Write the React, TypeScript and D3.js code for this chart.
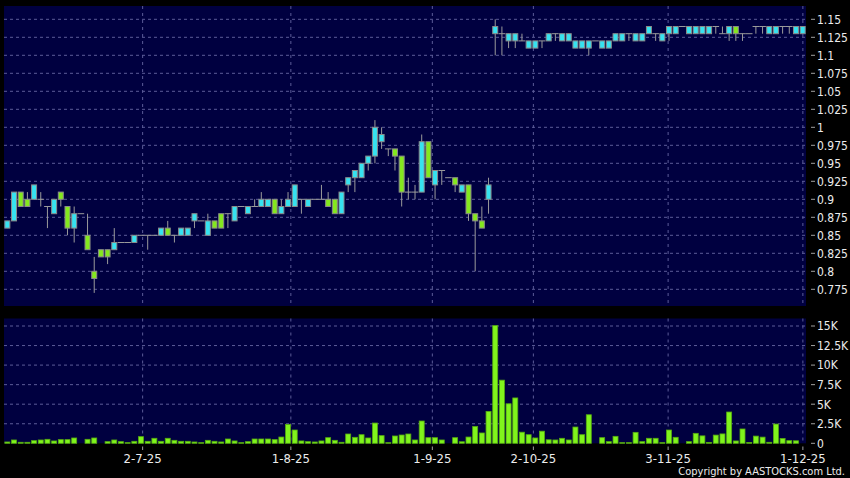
import React from "react";
import * as d3 from "d3";

// ---------- DATA ----------
const opens = [
  0.86, 0.87, 0.91, 0.90, 0.90, 0.90, 0.89, 0.88, 0.91, 0.89,
  0.86, 0.88, 0.85, 0.80, 0.83, 0.83, 0.83, 0.84, 0.84, 0.84,
  0.85, 0.85, 0.85, 0.85, 0.86, 0.85, 0.85, 0.85, 0.87, 0.87,
  0.85, 0.87, 0.88, 0.88, 0.87, 0.89, 0.88, 0.89, 0.89, 0.89,
  0.90, 0.88, 0.89, 0.89, 0.90, 0.89, 0.90, 0.90, 0.90, 0.90,
  0.88, 0.92, 0.93, 0.93, 0.95, 0.96, 0.98, 0.97, 0.97, 0.96,
  0.91, 0.91, 0.91, 0.98, 0.92, 0.94, 0.93, 0.93, 0.91, 0.92,
  0.88, 0.87, 0.90, 1.13, 1.13, 1.12, 1.12, 1.12, 1.11, 1.11,
  1.12, 1.12, 1.13, 1.12, 1.12, 1.11, 1.11, 1.11, 1.12, 1.11,
  1.11, 1.12, 1.12, 1.13, 1.12, 1.12, 1.13, 1.13, 1.12, 1.13,
  1.13, 1.14, 1.13, 1.13, 1.13, 1.13, 1.14, 1.13, 1.13, 1.14,
  1.13, 1.13, 1.14, 1.14, 1.13, 1.13, 1.14, 1.14, 1.13, 1.13,
];
const highs = [
  0.87, 0.91, 0.91, 0.91, 0.92, 0.91, 0.89, 0.90, 0.91, 0.89,
  0.89, 0.88, 0.88, 0.82, 0.83, 0.83, 0.86, 0.84, 0.84, 0.85,
  0.85, 0.85, 0.85, 0.86, 0.87, 0.85, 0.86, 0.86, 0.88, 0.87,
  0.88, 0.87, 0.88, 0.88, 0.89, 0.89, 0.89, 0.90, 0.91, 0.90,
  0.90, 0.90, 0.91, 0.92, 0.90, 0.90, 0.90, 0.92, 0.91, 0.90,
  0.91, 0.93, 0.94, 0.95, 0.96, 1.01, 1.00, 0.97, 0.97, 0.96,
  0.93, 0.92, 0.99, 0.98, 0.94, 0.94, 0.93, 0.93, 0.92, 0.92,
  0.88, 0.89, 0.93, 1.15, 1.14, 1.13, 1.13, 1.13, 1.12, 1.12,
  1.12, 1.13, 1.13, 1.13, 1.13, 1.12, 1.12, 1.12, 1.12, 1.12,
  1.12, 1.13, 1.13, 1.13, 1.13, 1.13, 1.14, 1.13, 1.13, 1.14,
  1.14, 1.14, 1.14, 1.14, 1.14, 1.14, 1.14, 1.14, 1.14, 1.14,
  1.13, 1.13, 1.14, 1.14, 1.14, 1.14, 1.14, 1.14, 1.14, 1.14,
];
const lows = [
  0.86, 0.87, 0.89, 0.89, 0.90, 0.89, 0.86, 0.88, 0.89, 0.85,
  0.84, 0.88, 0.83, 0.77, 0.82, 0.81, 0.83, 0.84, 0.84, 0.84,
  0.85, 0.83, 0.85, 0.85, 0.85, 0.84, 0.85, 0.85, 0.86, 0.87,
  0.85, 0.86, 0.86, 0.86, 0.87, 0.89, 0.88, 0.89, 0.89, 0.89,
  0.88, 0.88, 0.89, 0.89, 0.88, 0.89, 0.90, 0.90, 0.89, 0.88,
  0.88, 0.91, 0.91, 0.93, 0.94, 0.95, 0.97, 0.96, 0.94, 0.89,
  0.90, 0.90, 0.91, 0.93, 0.90, 0.92, 0.93, 0.91, 0.91, 0.87,
  0.80, 0.86, 0.88, 1.10, 1.10, 1.11, 1.11, 1.12, 1.11, 1.11,
  1.11, 1.12, 1.12, 1.12, 1.12, 1.11, 1.11, 1.10, 1.12, 1.11,
  1.11, 1.12, 1.12, 1.12, 1.12, 1.12, 1.13, 1.12, 1.12, 1.12,
  1.13, 1.14, 1.13, 1.13, 1.13, 1.13, 1.13, 1.13, 1.12, 1.12,
  1.12, 1.13, 1.13, 1.13, 1.13, 1.13, 1.13, 1.13, 1.13, 1.13,
];
const closes = [
  0.87, 0.91, 0.89, 0.89, 0.92, 0.90, 0.89, 0.90, 0.90, 0.86,
  0.88, 0.88, 0.83, 0.79, 0.82, 0.82, 0.84, 0.84, 0.84, 0.85,
  0.85, 0.85, 0.85, 0.86, 0.85, 0.85, 0.86, 0.86, 0.88, 0.87,
  0.87, 0.86, 0.86, 0.88, 0.89, 0.89, 0.89, 0.89, 0.90, 0.90,
  0.88, 0.89, 0.90, 0.92, 0.90, 0.90, 0.90, 0.90, 0.89, 0.88,
  0.91, 0.93, 0.94, 0.95, 0.96, 1.00, 0.99, 0.97, 0.96, 0.91,
  0.91, 0.91, 0.98, 0.93, 0.94, 0.94, 0.93, 0.92, 0.92, 0.88,
  0.87, 0.86, 0.92, 1.14, 1.13, 1.13, 1.13, 1.12, 1.12, 1.12,
  1.12, 1.13, 1.13, 1.13, 1.13, 1.12, 1.12, 1.12, 1.12, 1.12,
  1.12, 1.13, 1.13, 1.13, 1.13, 1.13, 1.14, 1.13, 1.13, 1.14,
  1.14, 1.14, 1.14, 1.14, 1.14, 1.14, 1.14, 1.13, 1.14, 1.13,
  1.13, 1.13, 1.14, 1.14, 1.14, 1.14, 1.14, 1.14, 1.14, 1.14,
];
const volumes = [
  170, 425, 130, 130, 340, 425, 510, 300, 470, 470,
  680, 0, 510, 680, 0, 212, 425, 212, 85, 255,
  850, 255, 640, 255, 640, 380, 255, 255, 170, 85,
  380, 255, 170, 550, 300, 85, 212, 550, 550, 550,
  470, 800, 2420, 1700, 300, 212, 170, 300, 720, 380,
  130, 1190, 765, 1100, 680, 2590, 980, 85, 935, 1060,
  1190, 425, 2850, 720, 720, 425, 0, 720, 200, 800,
  2150, 1320, 4080, 15050, 8075, 5050, 5800, 1420, 1100, 680,
  1550, 450, 425, 640, 425, 2080, 1100, 3650, 0, 720,
  212, 890, 85, 85, 1400, 212, 640, 640, 85, 1700,
  765, 0, 212, 1275, 950, 120, 1050, 1200, 4000, 300,
  1830, 100, 920, 790, 130, 2460, 620, 340, 320, 0,
];

const priceTicks = [0.775, 0.8, 0.825, 0.85, 0.875, 0.9, 0.925, 0.95, 0.975, 1, 1.025, 1.05, 1.075, 1.1, 1.125, 1.15];
const volumeTicks = [0, 2500, 5000, 7500, 10000, 12500, 15000];
const volumeTickLabels = ["0", "2.5K", "5K", "7.5K", "10K", "12.5K", "15K"];
const dateLabels = ["2-7-25", "1-8-25", "1-9-25", "2-10-25", "3-11-25", "1-12-25"];
const dateIndex = [20, 42, 63, 78, 98, 118];

// ---------- STYLE ----------
const W = 850;
const H = 478;
const panelL = 4;
const panelR = 806;
const priceTop = 6;
const priceBottom = 306;
const volTop = 318.5;
const volBottom = 443.3;

const BG = "#000000";
const PANEL = "#000040";
const GRID = "#5c5c98";
const UP = "#36e2f0";
const DOWN = "#84e81e";
const CANDLE_STROKE = "#8a8a8a";
const WICK = "#9a9a9a";
const VOL_FILL = "#80f41c";
const VOL_STROKE = "#56aa10";
const TEXT = "#ececec";
const FONT = "'DejaVu Sans Condensed', 'DejaVu Sans', sans-serif";

const fmtPrice = (v: number) => String(+v.toFixed(3));

export default function App() {
  const N = closes.length;
  const x = d3.scaleBand<number>().domain(d3.range(N)).range([panelL, panelR]).padding(0);
  const bw = x.bandwidth();
  const cx = (i: number) => (x(i) as number) + bw / 2;
  const dateAxis = d3.scaleLinear().domain([0, N - 1]).range([7.9, 809.6]);

  const yP = d3.scaleLinear().domain([0.775, 1.15]).range([289.3, 19.3]);
  const yV = d3.scaleLinear().domain([0, 15000]).range([volBottom, 326]);

  const half = 2.5;

  return (
    <svg
      width={W}
      height={H}
      viewBox={`0 0 ${W} ${H}`}
      style={{ position: "absolute", left: 0, top: 0, display: "block" }}
      fontFamily={FONT}
    >
      <rect x={0} y={0} width={W} height={H} fill={BG} />
      {/* panels */}
      <rect x={panelL} y={priceTop} width={panelR - panelL} height={priceBottom - priceTop} fill={PANEL} />
      <rect x={panelL} y={volTop} width={panelR - panelL} height={volBottom - volTop} fill={PANEL} />

      {/* horizontal grid - price */}
      {priceTicks.map((t) => (
        <line key={"pg" + t} x1={panelL} x2={panelR} y1={yP(t)} y2={yP(t)} stroke={GRID} strokeDasharray="3,3" strokeWidth={1} />
      ))}
      {/* horizontal grid - volume */}
      {volumeTicks.filter((t) => t > 0).map((t) => (
        <line key={"vg" + t} x1={panelL} x2={panelR} y1={yV(t)} y2={yV(t)} stroke={GRID} strokeDasharray="3,3" strokeWidth={1} />
      ))}
      {/* vertical grid */}
      {dateIndex.map((di) => (
        <g key={"vgl" + di}>
          <line x1={dateAxis(di)} x2={dateAxis(di)} y1={priceTop} y2={priceBottom} stroke={GRID} strokeDasharray="3,4" />
          <line x1={dateAxis(di)} x2={dateAxis(di)} y1={volTop} y2={volBottom} stroke={GRID} strokeDasharray="3,4" />
        </g>
      ))}

      {/* candles */}
      {closes.map((c, i) => {
        const o = opens[i];
        const hgh = highs[i];
        const lw = lows[i];
        const px = cx(i);
        const wick = (
          <line x1={px} x2={px} y1={yP(hgh)} y2={yP(lw)} stroke={WICK} strokeWidth={1} />
        );
        if (Math.abs(c - o) < 1e-9) {
          return (
            <g key={"c" + i}>
              {hgh !== lw && wick}
              <line x1={px - bw / 2} x2={px + bw / 2} y1={yP(o)} y2={yP(o)} stroke={WICK} strokeWidth={1} />
            </g>
          );
        }
        const top = yP(Math.max(o, c));
        const bot = yP(Math.min(o, c));
        return (
          <g key={"c" + i}>
            {wick}
            <rect
              x={px - half}
              y={top}
              width={half * 2}
              height={bot - top}
              fill={c > o ? UP : DOWN}
              stroke={CANDLE_STROKE}
              strokeWidth={1}
            />
          </g>
        );
      })}

      {/* volume bars */}
      {volumes.map((v, i) => {
        if (v <= 0) return null;
        const px = cx(i);
        const top = yV(v);
        return (
          <rect
            key={"v" + i}
            x={px - half}
            y={top}
            width={half * 2}
            height={Math.max(0.5, volBottom - top)}
            fill={VOL_FILL}
            stroke={VOL_STROKE}
            strokeWidth={0.8}
          />
        );
      })}

      {/* price axis labels */}
      {priceTicks.map((t) => (
        <g key={"pl" + t}>
          <line x1={811} x2={815} y1={yP(t)} y2={yP(t)} stroke="#a0a0a0" />
          <text x={817} y={yP(t)} dy="0.36em" fontSize={12} fill={TEXT} fontStretch="condensed">
            {fmtPrice(t)}
          </text>
        </g>
      ))}
      {/* volume axis labels */}
      {volumeTicks.map((t, k) => (
        <g key={"vl" + t}>
          <line x1={811} x2={815} y1={yV(t)} y2={yV(t)} stroke="#a0a0a0" />
          <text x={817} y={yV(t)} dy="0.36em" fontSize={12} fill={TEXT} fontStretch="condensed">
            {volumeTickLabels[k]}
          </text>
        </g>
      ))}
      {/* date axis */}
      {dateIndex.map((di, k) => (
        <g key={"dl" + di}>
          <line x1={dateAxis(di)} x2={dateAxis(di)} y1={446.5} y2={450} stroke="#a0a0a0" />
          <text x={dateAxis(di)} y={463} textAnchor="middle" fontSize={13} fill={TEXT} fontStretch="condensed">
            {dateLabels[k]}
          </text>
        </g>
      ))}
      <text x={845} y={474.5} textAnchor="end" fontSize={11} fill={TEXT} fontStretch="condensed">
        Copyright by AASTOCKS.com Ltd.
      </text>
    </svg>
  );
}
